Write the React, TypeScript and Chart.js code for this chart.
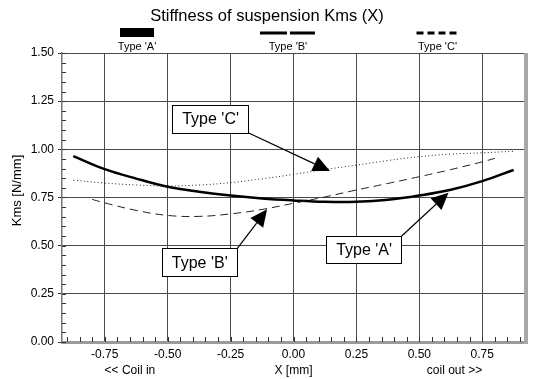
import React, { useEffect, useRef } from "react";
import { Chart, registerables } from "chart.js";

Chart.register(...registerables);

// ---------- data ----------
const chartTitle = "Stiffness of suspension Kms (X)";
const seriesNames = ["Type 'A'", "Type 'B'", "Type 'C'"];
const xTitle = "X [mm]";
const xLeftNote = "<< Coil in";
const xRightNote = "coil out >>";
const yTitle = "Kms [N/mm]";

const xTicks = [-0.75, -0.5, -0.25, 0, 0.25, 0.5, 0.75];
const yTicks = [0, 0.25, 0.5, 0.75, 1.0, 1.25, 1.5];

const xA = [-0.875, -0.75, -0.625, -0.5, -0.375, -0.25, -0.125, 0, 0.125, 0.25, 0.375, 0.5, 0.625, 0.75, 0.875];
const typeA = [0.965, 0.897, 0.848, 0.806, 0.78, 0.76, 0.745, 0.735, 0.728, 0.728, 0.738, 0.76, 0.79, 0.835, 0.893];

const xB = [-0.8, -0.75, -0.625, -0.5, -0.375, -0.25, -0.125, 0, 0.125, 0.25, 0.375, 0.5, 0.625, 0.75, 0.8];
const typeB = [0.74, 0.722, 0.683, 0.657, 0.652, 0.665, 0.688, 0.72, 0.753, 0.789, 0.823, 0.858, 0.895, 0.935, 0.953];

const xC = [-0.875, -0.75, -0.625, -0.5, -0.375, -0.25, -0.125, 0, 0.125, 0.25, 0.375, 0.5, 0.625, 0.75, 0.875];
const typeC = [0.84, 0.825, 0.815, 0.81, 0.815, 0.827, 0.847, 0.87, 0.895, 0.918, 0.942, 0.962, 0.975, 0.982, 0.99];

// callouts: box corners (data units) and arrow tip (data units)
const callouts = [
  { text: "Type 'C'", x0: -0.481, y0: 1.23, x1: -0.178, y1: 1.085, from: "br", tipX: 0.145, tipY: 0.887 },
  { text: "Type 'B'", x0: -0.522, y0: 0.486, x1: -0.223, y1: 0.343, from: "tr", tipX: -0.105, tipY: 0.689 },
  { text: "Type 'A'", x0: 0.131, y0: 0.55, x1: 0.43, y1: 0.408, from: "tr", tipX: 0.616, tipY: 0.775 },
];

const FONT = "'Liberation Sans', Arial, sans-serif";
const legendCenters = [0.162, 0.488, 0.811];

const toPoints = (xs: number[], ys: number[]) => xs.map((x, i) => ({ x, y: ys[i] }));

const decorPlugin = {
  id: "decor",
  beforeDatasetsDraw(chart: any) {
    const { ctx, chartArea: a, scales } = chart;
    const xs = scales.x;
    const ys = scales.y;
    ctx.save();
    // minor ticks inside bottom and left axes
    ctx.strokeStyle = "#333";
    ctx.lineWidth = 1;
    ctx.beginPath();
    for (let v = -0.9; v <= 0.9001; v += 0.05) {
      const px = Math.round(xs.getPixelForValue(v)) + 0.5;
      ctx.moveTo(px, a.bottom);
      ctx.lineTo(px, a.bottom - 5);
    }
    for (let v = 0; v <= 1.5001; v += 0.05) {
      const py = Math.round(ys.getPixelForValue(v)) + 0.5;
      ctx.moveTo(a.left, py);
      ctx.lineTo(a.left + 4, py);
    }
    ctx.stroke();
    // right border (grey band)
    ctx.fillStyle = "#a8a8a8";
    ctx.fillRect(a.right - 1, a.top, 4, a.bottom - a.top + 2);
    ctx.restore();
  },
  afterDatasetsDraw(chart: any) {
    const { ctx, scales } = chart;
    const xs = scales.x;
    const ys = scales.y;
    ctx.save();
    for (const c of callouts) {
      const L = xs.getPixelForValue(c.x0);
      const R = xs.getPixelForValue(c.x1);
      const T = ys.getPixelForValue(c.y0);
      const B = ys.getPixelForValue(c.y1);
      const sx = R;
      const sy = c.from === "br" ? B : T;
      const tx = xs.getPixelForValue(c.tipX);
      const ty = ys.getPixelForValue(c.tipY);
      const ang = Math.atan2(ty - sy, tx - sx);
      const len = 17;
      const hw = 8;
      const bx = tx - len * Math.cos(ang);
      const by = ty - len * Math.sin(ang);
      ctx.strokeStyle = "#000";
      ctx.lineWidth = 1.2;
      ctx.beginPath();
      ctx.moveTo(sx, sy);
      ctx.lineTo(bx, by);
      ctx.stroke();
      ctx.fillStyle = "#000";
      ctx.beginPath();
      ctx.moveTo(tx, ty);
      ctx.lineTo(bx + hw * Math.sin(ang), by - hw * Math.cos(ang));
      ctx.lineTo(bx - hw * Math.sin(ang), by + hw * Math.cos(ang));
      ctx.closePath();
      ctx.fill();
      // box
      ctx.fillStyle = "#fff";
      ctx.fillRect(L, T, R - L, B - T);
      ctx.lineWidth = 1;
      ctx.strokeStyle = "#000";
      ctx.strokeRect(Math.round(L) + 0.5, Math.round(T) + 0.5, Math.round(R - L), Math.round(B - T));
      ctx.fillStyle = "#000";
      ctx.font = `16px ${FONT}`;
      ctx.textAlign = "center";
      ctx.textBaseline = "middle";
      ctx.fillText(c.text, (L + R) / 2, (T + B) / 2 + 1);
    }
    ctx.restore();
  },
  afterDraw(chart: any) {
    const { ctx, chartArea: a, scales } = chart;
    ctx.save();
    ctx.fillStyle = "#000";
    ctx.textAlign = "center";
    ctx.textBaseline = "middle";
    // title
    ctx.font = `16.5px ${FONT}`;
    ctx.fillText(chartTitle, chart.width / 2, 16);
    // legend
    const w = a.right - a.left;
    legendCenters.forEach((f, i) => {
      const cx = a.left + f * w;
      ctx.strokeStyle = "#000";
      if (i === 0) {
        ctx.fillRect(cx - 17, 28, 34, 9);
      } else if (i === 1) {
        ctx.lineWidth = 3;
        ctx.setLineDash([27, 3]);
        ctx.beginPath();
        ctx.moveTo(cx - 28, 33);
        ctx.lineTo(cx + 27, 33);
        ctx.stroke();
      } else {
        ctx.lineWidth = 3;
        ctx.setLineDash([7, 4]);
        ctx.beginPath();
        ctx.moveTo(cx - 21, 33);
        ctx.lineTo(cx + 22, 33);
        ctx.stroke();
      }
      ctx.setLineDash([]);
      ctx.font = `11px ${FONT}`;
      ctx.fillText(seriesNames[i], cx, 46.5);
    });
    // x axis titles
    ctx.font = `12px ${FONT}`;
    const xs = scales.x;
    ctx.fillText(xTitle, xs.getPixelForValue(0), 371);
    ctx.fillText(xLeftNote, xs.getPixelForValue(-0.65), 371);
    ctx.fillText(xRightNote, xs.getPixelForValue(0.64), 371);
    // y axis title
    ctx.font = `13px ${FONT}`;
    ctx.translate(17, (a.top + a.bottom) / 2 - 7);
    ctx.rotate(-Math.PI / 2);
    ctx.fillText(yTitle, 0, 0);
    ctx.restore();
  },
};

export default function App() {
  const ref = useRef<HTMLCanvasElement | null>(null);
  useEffect(() => {
    if (!ref.current) return;
    const chart = new Chart(ref.current, {
      type: "line",
      data: {
        datasets: [
          {
            label: seriesNames[2],
            data: toPoints(xC, typeC),
            borderColor: "#222",
            borderWidth: 1,
            borderDash: [1, 2.5],
            pointRadius: 0,
            tension: 0.4,
            fill: false,
          },
          {
            label: seriesNames[1],
            data: toPoints(xB, typeB),
            borderColor: "#222",
            borderWidth: 1,
            borderDash: [8, 5],
            pointRadius: 0,
            tension: 0.4,
            fill: false,
          },
          {
            label: seriesNames[0],
            data: toPoints(xA, typeA),
            borderColor: "#000",
            borderWidth: 2.5,
            pointRadius: 0,
            tension: 0.4,
            fill: false,
          },
        ],
      },
      options: {
        responsive: true,
        maintainAspectRatio: false,
        animation: false,
        layout: { padding: { left: 0, right: 9, top: 53, bottom: 0 } },
        plugins: {
          legend: { display: false },
          title: { display: false },
          tooltip: { enabled: false },
        },
        scales: {
          x: {
            type: "linear",
            min: -0.92,
            max: 0.92,
            afterBuildTicks: (s: any) => {
              s.ticks = xTicks.map((v) => ({ value: v }));
            },
            afterFit: (s: any) => {
              s.height = 37;
            },
            ticks: {
              callback: (v: any) => Number(v).toFixed(2),
              font: { family: FONT, size: 12 },
              color: "#000",
              padding: 5,
              maxRotation: 0,
              autoSkip: false,
            },
            grid: { color: "#4a4a4a", lineWidth: 1, drawTicks: false },
            border: { display: true, color: "#9a9a9a", width: 3 },
          },
          y: {
            type: "linear",
            min: 0,
            max: 1.5,
            afterBuildTicks: (s: any) => {
              s.ticks = yTicks.map((v) => ({ value: v }));
            },
            afterFit: (s: any) => {
              s.width = 62;
            },
            ticks: {
              callback: (v: any) => Number(v).toFixed(2),
              font: { family: FONT, size: 12 },
              color: "#000",
              padding: 4,
            },
            grid: { color: "#4a4a4a", lineWidth: 1, drawTicks: true, tickLength: 4, tickColor: "#333" },
            border: { display: true, color: "#777", width: 1.5 },
          },
        },
      },
      plugins: [decorPlugin],
    });
    return () => chart.destroy();
  }, []);
  return (
    <div style={{ position: "absolute", left: 0, top: 0, width: 534, height: 379, background: "#fff" }}>
      <canvas ref={ref} />
    </div>
  );
}
